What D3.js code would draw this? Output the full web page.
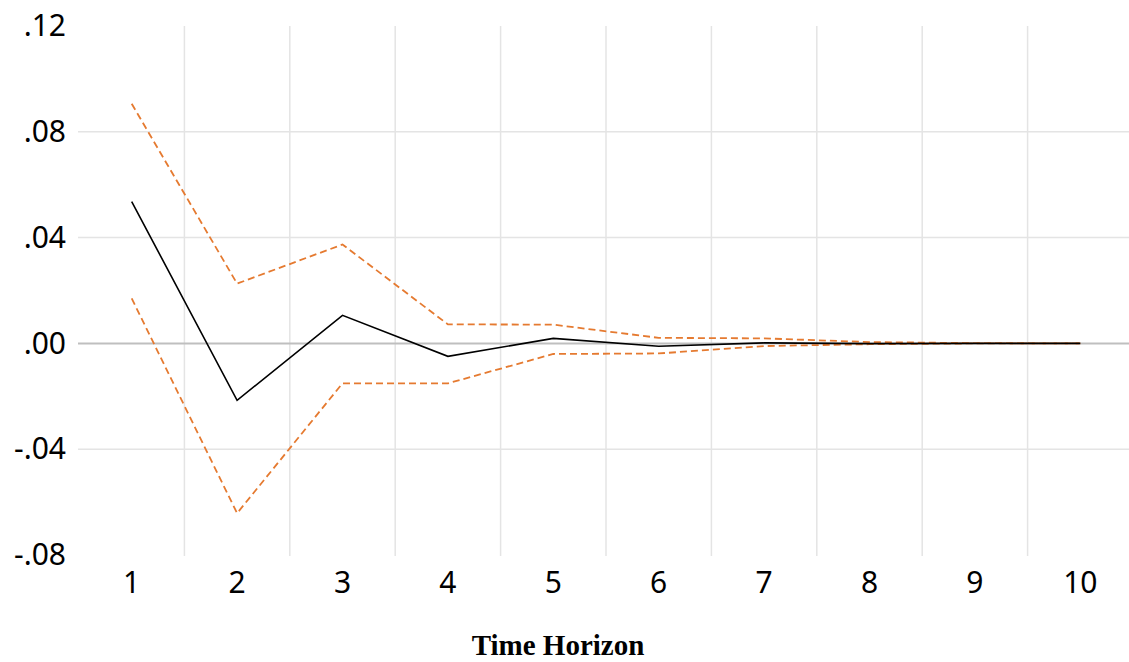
<!DOCTYPE html>
<meta charset="utf-8">
<style>
body { margin: 0; background: #fff; }
.tick text { font-family: "Noto Sans", sans-serif; fill: #000; }
.xtitle { font-family: "Liberation Serif", serif; font-weight: bold; font-size: 29px; text-anchor: middle; }
</style>
<body>
<script src="https://cdn.jsdelivr.net/npm/d3@7"></script>
<script>
// horizons 1..10
var horizons = [1, 2, 3, 4, 5, 6, 7, 8, 9, 10];
// impulse response and the two confidence bands
var response = [0.0536, -0.0215, 0.0106, -0.0049, 0.0019, -0.0011, 0.0002, -0.0001, 0.0000, 0.0000];
var upper    = [0.0906, 0.0226, 0.0374, 0.0072, 0.0071, 0.0021, 0.0019, 0.0005, 0.0001, 0.0000];
var lower    = [0.0170, -0.0642, -0.0151, -0.0151, -0.0040, -0.0038, -0.0010, -0.0003, 0.0000, 0.0000];
var yTicks = [-0.08, -0.04, 0, 0.04, 0.08, 0.12];

var W = 1129, H = 662;
// plot area (don't call it "top", that's window.top)
var plotL = 79, plotR = 1133, plotT = 26, plotB = 555;

var svg = d3.select("body").append("svg")
    .attr("width", W).attr("height", H);

var x = d3.scaleBand().domain(horizons).range([plotL, plotR]);
var y = d3.scaleLinear().domain([-0.08, 0.12]).range([plotB, plotT]);

// vertical gridlines at band edges
svg.append("g").selectAll("line")
    .data(horizons.slice(1))
  .enter().append("line")
    .attr("x1", function(d) { return x(d); })
    .attr("x2", function(d) { return x(d); })
    .attr("y1", plotT).attr("y2", plotB + 1)
    .style("stroke", "#e4e4e4").style("stroke-width", 1.5);

// horizontal gridlines (not at the ends)
svg.append("g").selectAll("line")
    .data([-0.04, 0.04, 0.08])
  .enter().append("line")
    .attr("x1", plotL - 1).attr("x2", W)
    .attr("y1", function(d) { return y(d); })
    .attr("y2", function(d) { return y(d); })
    .style("stroke", "#e4e4e4").style("stroke-width", 1.5);

// zero line
svg.append("line")
    .attr("x1", plotL - 1).attr("x2", W)
    .attr("y1", y(0)).attr("y2", y(0))
    .style("stroke", "#bfbfbf").style("stroke-width", 2);

// y axis labels
var fmt = function(d) {
  var s = d3.format(".2f")(Math.abs(d)).replace(/^0/, "");
  return (d < 0 ? "-" : "") + s;
};
var yAxis = svg.append("g")
    .attr("transform", "translate(66,0)")
    .call(d3.axisLeft(y).tickValues(yTicks).tickFormat(fmt).tickSize(0).tickPadding(0));
yAxis.select(".domain").remove();
yAxis.selectAll("text").style("font-size", "30px");

// x axis labels
var xAxis = svg.append("g")
    .attr("transform", "translate(0," + (plotB + 13) + ")")
    .call(d3.axisBottom(x).tickSize(0).tickPadding(4));
xAxis.select(".domain").remove();
xAxis.selectAll("text").style("font-size", "30px");

var line = d3.line()
    .x(function(d, i) { return x(horizons[i]) + x.bandwidth() / 2; })
    .y(function(d) { return y(d); });

[upper, lower].forEach(function(s) {
  svg.append("path")
      .attr("d", line(s))
      .style("fill", "none")
      .style("stroke", "#E57A30")
      .style("stroke-width", 1.8)
      .style("stroke-dasharray", "7,4");
});

svg.append("path")
    .attr("d", line(response))
    .style("fill", "none")
    .style("stroke", "#000")
    .style("stroke-width", 1.6);

svg.append("text")
    .attr("class", "xtitle")
    .attr("x", 558).attr("y", 655)
    .text("Time Horizon");
</script>
</body>
